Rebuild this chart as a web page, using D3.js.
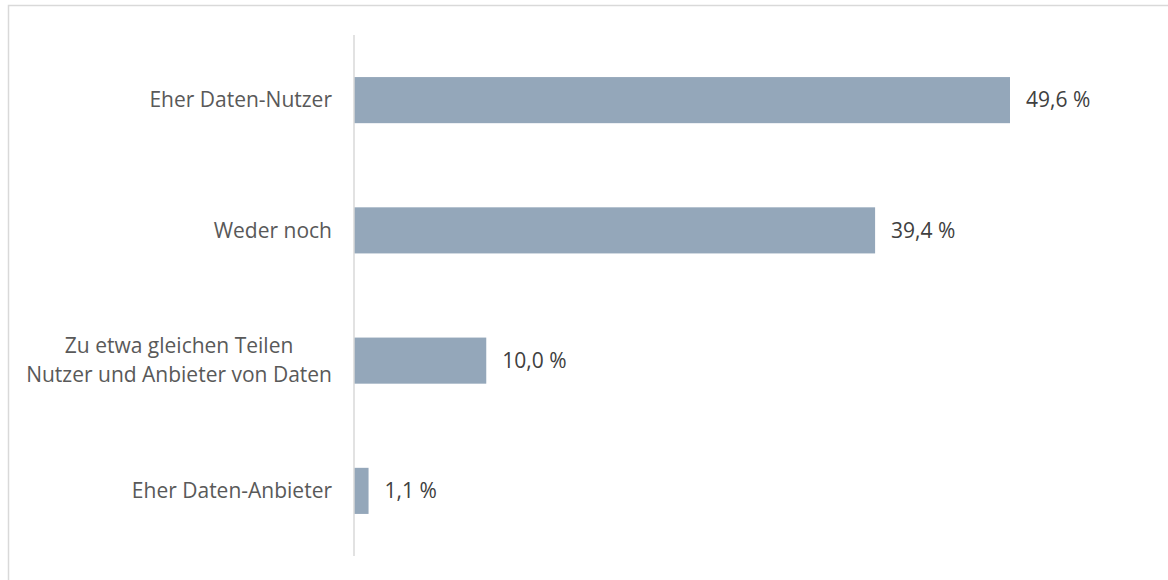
<!DOCTYPE html>
<html>
<head>
<meta charset="utf-8">
<script src="https://cdn.jsdelivr.net/npm/d3@7"></script>
<style>
  body { margin: 0; background: #fff; }
  svg { display: block; font-family: "Open Sans", sans-serif; }
</style>
</head>
<body>
<div id="chart"></div>
<script>
// Categories top to bottom, shares in percent
const categories = [
  ["Eher Daten-Nutzer"],
  ["Weder noch"],
  ["Zu etwa gleichen Teilen", "Nutzer und Anbieter von Daten"],
  ["Eher Daten-Anbieter"]
];
const values = [49.6, 39.4, 10.0, 1.1];
const valueLabels = ["49,6 %", "39,4 %", "10,0 %", "1,1 %"];

const width = 1168, height = 580;

const svg = d3.select("#chart").append("svg")
  .attr("width", width)
  .attr("height", height);

// Outer frame (right and bottom edges fall outside the picture)
svg.append("rect")
  .attr("x", 8.5)
  .attr("y", 5.5)
  .attr("width", 1200)
  .attr("height", 600)
  .attr("fill", "none")
  .attr("stroke", "#d9d9d9")
  .attr("stroke-width", 1.5);

const axisX = 354;

// x scale: percent to pixels
const x = d3.scaleLinear()
  .domain([0, 49.6])
  .range([axisX, 1010]);

const y = d3.scaleBand()
  .domain(d3.range(categories.length))
  .range([35, 556])
  .paddingInner(0.646)
  .paddingOuter(0.323);

// Bars
svg.selectAll(".bar")
  .data(values)
  .enter().append("rect")
  .attr("class", "bar")
  .attr("x", x(0))
  .attr("y", (d, i) => y(i))
  .attr("width", d => x(d) - x(0))
  .attr("height", y.bandwidth())
  .attr("fill", "#94a7ba");

// Vertical category axis line
svg.append("line")
  .attr("x1", axisX)
  .attr("x2", axisX)
  .attr("y1", 35)
  .attr("y2", 556)
  .attr("stroke", "#d9d9d9")
  .attr("stroke-width", 1.5);

// Category labels
const labels = svg.selectAll(".cat")
  .data(categories)
  .enter().append("text")
  .attr("class", "cat")
  .attr("text-anchor", "middle")
  .attr("fill", "#595959")
  .style("font-size", "21px");

labels.each(function(lines, i) {
  const t = d3.select(this);
  const cy = y(i) + y.bandwidth() / 2;
  const lineH = 29;
  const start = cy - (lines.length - 1) * lineH / 2;
  lines.forEach((l, j) => {
    t.append("tspan")
      .attr("y", start + j * lineH)
      .attr("dy", "0.35em")
      .text(l);
  });
});

// right-align block, center lines within it (like Excel wrapped labels)
labels.each(function() {
  const t = d3.select(this);
  const spans = t.selectAll("tspan").nodes();
  const maxW = d3.max(spans, s => s.getComputedTextLength());
  t.selectAll("tspan").attr("x", 332 - maxW / 2);
});

// Value labels
svg.selectAll(".val")
  .data(values)
  .enter().append("text")
  .attr("class", "val")
  .attr("x", d => x(d) + 16)
  .attr("y", (d, i) => y(i) + y.bandwidth() / 2)
  .attr("dy", "0.35em")
  .attr("fill", "#404040")
  .style("font-size", "21px")
  .text((d, i) => valueLabels[i]);
</script>
</body>
</html>
